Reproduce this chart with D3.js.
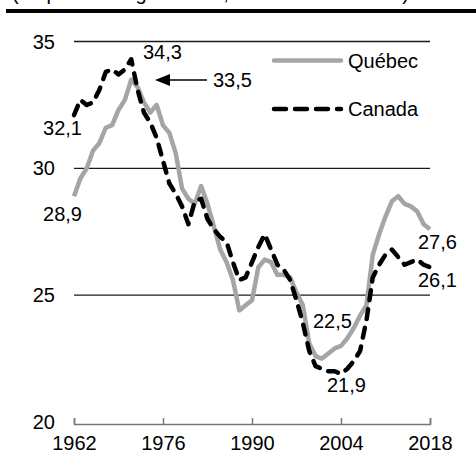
<!DOCTYPE html>
<html>
<head>
<meta charset="utf-8">
<script src="https://cdn.jsdelivr.net/npm/d3@7"></script>
<style>
  body { margin: 0; background: #fff; }
  text { font-family: "Liberation Sans", Arial, sans-serif; fill: #000; }
</style>
</head>
<body>
<svg id="chart" width="476" height="464"></svg>
<script>
// years on the x axis
const years = d3.range(1962, 2019);

// Québec series (per cent)
const quebec = [
  28.9, 29.6, 30.0, 30.7, 31.0, 31.6, 31.7, 32.3, 32.7, 33.5,
  33.2, 32.6, 32.2, 32.5, 31.7, 31.4, 30.6, 29.2, 28.8, 28.6,
  29.3, 28.6, 27.7, 26.8, 26.3, 25.6, 24.4, 24.6, 24.8, 26.1,
  26.4, 26.3, 25.8, 25.8, 25.7, 25.1, 24.6, 23.1, 22.6, 22.5,
  22.7, 22.9, 23.0, 23.3, 23.7, 24.2, 24.6, 26.6, 27.4, 28.1,
  28.7, 28.9, 28.6, 28.5, 28.3, 27.8, 27.6
];

// Canada series (per cent)
const canada = [
  32.1, 32.7, 32.5, 32.6, 33.1, 33.8, 33.9, 33.7, 33.9, 34.3,
  33.1, 32.2, 31.8, 31.2, 30.3, 29.4, 29.0, 28.5, 27.8, 28.7,
  28.8, 28.0, 27.6, 27.3, 27.1, 26.3, 25.6, 25.7, 26.3, 26.9,
  27.4, 26.8, 26.2, 26.0, 25.6, 24.8, 23.9, 22.8, 22.2, 22.1,
  22.0, 22.0, 21.9, 22.1, 22.4, 22.8, 24.0, 25.7, 26.2, 26.6,
  26.8, 26.5, 26.2, 26.3, 26.4, 26.2, 26.1
];

const yTicks = [20, 25, 30, 35];
const xTicks = [1962, 1976, 1990, 2004, 2018];
const seriesNames = ["Québec", "Canada"];

const svg = d3.select("#chart");

// clipped heading at the very top + thick rule
svg.append("text")
    .attr("x", 12)
    .attr("y", 0)
    .style("font-size", "20px")
    .text("(en pourcentage du PIB, données annuelles)");
svg.append("line")
    .attr("x1", 6).attr("x2", 476)
    .attr("y1", 11).attr("y2", 11)
    .attr("stroke", "#000")
    .attr("stroke-width", 4);

const x = d3.scaleLinear().domain([1962, 2018]).range([74, 430]);
const y = d3.scaleLinear().domain([20, 35]).range([422, 41.5]);

// horizontal gridlines (not at 20, that is the axis)
svg.append("g")
    .selectAll("line")
    .data(yTicks.filter(d => d > 20))
    .join("line")
    .attr("x1", x(1962)).attr("x2", x(2018))
    .attr("y1", d => y(d)).attr("y2", d => y(d))
    .attr("stroke", "#1a1a1a")
    .attr("stroke-width", 1.4);

// y tick labels
svg.append("g")
    .selectAll("text")
    .data(yTicks)
    .join("text")
    .attr("x", 55)
    .attr("y", d => y(d))
    .attr("dy", "0.35em")
    .attr("text-anchor", "end")
    .style("font-size", "20px")
    .text(d => d);

// bottom axis
const xAxis = d3.axisBottom(x)
    .tickValues(xTicks)
    .tickFormat(d3.format("d"))
    .tickSize(-6)
    .tickPadding(12);
const gx = svg.append("g")
    .attr("transform", `translate(0,${y(20) + 2})`)
    .call(xAxis);
gx.select(".domain").attr("stroke", "#777").attr("stroke-width", 1.5);
gx.selectAll(".tick line").attr("stroke", "#777").attr("stroke-width", 1.5);
gx.selectAll(".tick text")
    .style("font-size", "20px")
    .style("font-family", "Liberation Sans, Arial, sans-serif")
    .attr("fill", "#000");

const line = d3.line()
    .x((d, i) => x(years[i]))
    .y(d => y(d));

// Québec: solid gray
svg.append("path")
    .datum(quebec)
    .attr("d", line)
    .attr("fill", "none")
    .attr("stroke", "#a5a5a5")
    .attr("stroke-width", 4.5)
    .attr("stroke-linejoin", "round");

// Canada: black dashed
svg.append("path")
    .datum(canada)
    .attr("d", line)
    .attr("fill", "none")
    .attr("stroke", "#000")
    .attr("stroke-width", 4.5)
    .attr("stroke-dasharray", "10,9")
    .attr("stroke-linecap", "round")
    .attr("stroke-linejoin", "round");

// legend
const legend = svg.append("g");
const legendY = [60.5, 109];
seriesNames.forEach((name, i) => {
    const l = legend.append("line")
        .attr("x1", 274).attr("x2", 341)
        .attr("y1", legendY[i]).attr("y2", legendY[i])
        .attr("stroke-width", 4.5)
        .attr("stroke-linecap", "round");
    if (i === 0) l.attr("stroke", "#a5a5a5");
    else l.attr("stroke", "#000").attr("stroke-dasharray", "12,9");
    legend.append("text")
        .attr("x", 348)
        .attr("y", legendY[i])
        .attr("dy", "0.35em")
        .style("font-size", "20px")
        .text(name);
});

// value annotations
const fmt = v => String(v).replace(".", ",");
const notes = [
    { t: fmt(canada[0]), x: 82, y: 135, anchor: "end" },
    { t: fmt(quebec[0]), x: 82, y: 221, anchor: "end" },
    { t: fmt(d3.max(canada)), x: 143, y: 59, anchor: "start" },
    { t: fmt(d3.max(quebec)), x: 213, y: 87, anchor: "start" },
    { t: fmt(d3.min(quebec)), x: 313, y: 328, anchor: "start" },
    { t: fmt(d3.min(canada)), x: 327, y: 392, anchor: "start" },
    { t: fmt(quebec[quebec.length - 1]), x: 418, y: 249, anchor: "start" },
    { t: fmt(canada[canada.length - 1]), x: 418, y: 287, anchor: "start" }
];
svg.append("g")
    .selectAll("text")
    .data(notes)
    .join("text")
    .attr("x", d => d.x)
    .attr("y", d => d.y)
    .attr("text-anchor", d => d.anchor)
    .style("font-size", "20px")
    .text(d => d.t);

// arrow pointing at the Québec peak
svg.append("line")
    .attr("x1", 168).attr("x2", 207)
    .attr("y1", 80).attr("y2", 80)
    .attr("stroke", "#000")
    .attr("stroke-width", 1.3);
svg.append("path")
    .attr("d", "M155,80L170,74L170,86Z")
    .attr("fill", "#000");
</script>
</body>
</html>
